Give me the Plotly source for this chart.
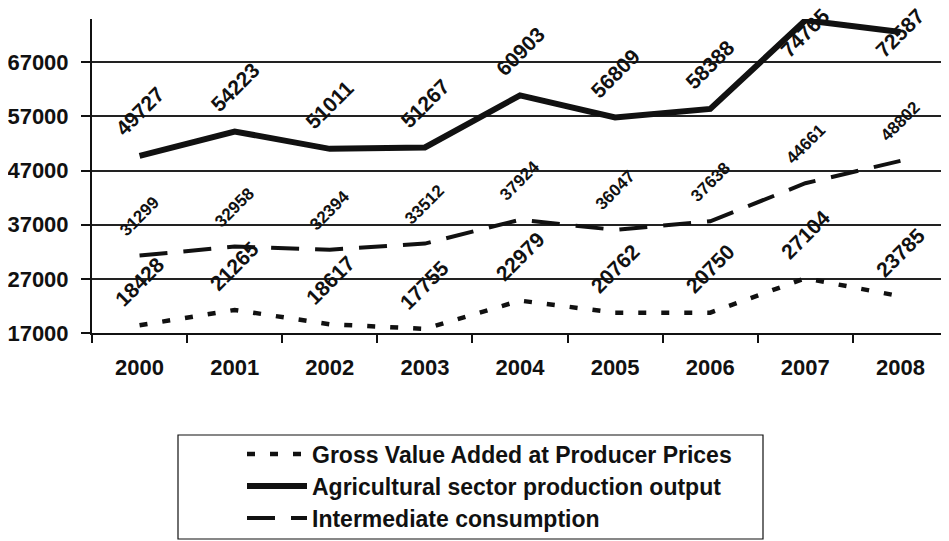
import plotly.graph_objects as go

years = ["2000", "2001", "2002", "2003", "2004", "2005", "2006", "2007", "2008"]
gva = [18428, 21265, 18617, 17755, 22979, 20762, 20750, 27104, 23785]
output = [49727, 54223, 51011, 51267, 60903, 56809, 58388, 74765, 72587]
intermediate = [31299, 32958, 32394, 33512, 37924, 36047, 37638, 44661, 48802]
y_ticks = [17000, 27000, 37000, 47000, 57000, 67000]

names = ["Gross Value Added at Producer Prices",
         "Agricultural sector production output",
         "Intermediate consumption"]

OFF = 8  # page body margin
W, H = 949 - OFF, 541 - OFF
ML, MR, MT = 92 - OFF, 1, 19 - OFF
MB = H - (333 - OFF)
YMIN, YMAX = 17000, 75000
plot_h = H - MT - MB
FONT = "Liberation Sans, Arial, sans-serif"

def px_x(p):
    return (p - OFF - ML) / (W - ML - MR)

def px_y(p):
    return (H - MB - (p - OFF)) / plot_h

fig = go.Figure()
fig.add_trace(go.Scatter(x=years, y=gva, mode="lines", name=names[0], legend="legend",
                         line=dict(color="#111", width=4.5, dash="8px,15px")))
fig.add_trace(go.Scatter(x=years, y=output, mode="lines", name=names[1], legend="legend2",
                         line=dict(color="#111", width=6)))
fig.add_trace(go.Scatter(x=years, y=intermediate, mode="lines", name=names[2], legend="legend3",
                         line=dict(color="#111", width=4, dash="28px,16px")))

cap_px = plot_h - 14  # keep labels inside the plot area near top

def add_labels(vals, off, size):
    for i, v in enumerate(vals):
        pos = (v - YMIN) / (YMAX - YMIN) * plot_h
        shift = min(off, cap_px - pos)
        fig.add_annotation(x=i, y=v, xref="x", yref="y", text=f"{v}", showarrow=False,
                           textangle=-45, yshift=shift,
                           font=dict(family=FONT, size=size, color="#111", weight="bold"))

add_labels(output, 44, 21)
add_labels(intermediate, 39, 17)
add_labels(gva, 44, 21)

fig.add_shape(type="rect", xref="paper", yref="paper",
              x0=px_x(178), x1=px_x(763), y0=px_y(539), y1=px_y(435),
              line=dict(color="#111", width=1.2), fillcolor="rgba(0,0,0,0)")

def legend_at(py):
    return dict(xref="container", yref="container",
                x=(242 - OFF) / W, y=1 - (py - OFF) / H, xanchor="left", yanchor="middle",
                font=dict(family=FONT, size=23, color="#111", weight="bold"),
                bgcolor="rgba(0,0,0,0)", borderwidth=0, itemwidth=60)

fig.update_layout(
    width=W, height=H,
    margin=dict(l=ML, r=MR, t=MT, b=MB, autoexpand=False),
    paper_bgcolor="white", plot_bgcolor="white",
    font=dict(family=FONT, color="#111"),
    showlegend=True,
    legend=legend_at(454),
    legend2=legend_at(486),
    legend3=legend_at(518),
    xaxis=dict(type="category", range=[-0.5, len(years) - 0.5],
               showgrid=False, showline=True, linecolor="#111",
               linewidth=2, ticks="outside", tickson="boundaries", ticklen=8,
               tickwidth=2, tickcolor="#111", ticklabelstandoff=14,
               tickfont=dict(family=FONT, size=22, color="#111", weight="bold"),
               fixedrange=True),
    yaxis=dict(range=[YMIN, YMAX], tickvals=y_ticks, ticktext=[str(t) for t in y_ticks],
               showgrid=True, gridcolor="#222", gridwidth=1.5,
               showline=True, linecolor="#111", linewidth=2, ticks="outside",
               ticklen=9, tickwidth=2, tickcolor="#111", ticklabelstandoff=8,
               tickfont=dict(family=FONT, size=22, color="#111", weight="bold"),
               zeroline=False, fixedrange=True),
)

fig.write_html("out.html")
